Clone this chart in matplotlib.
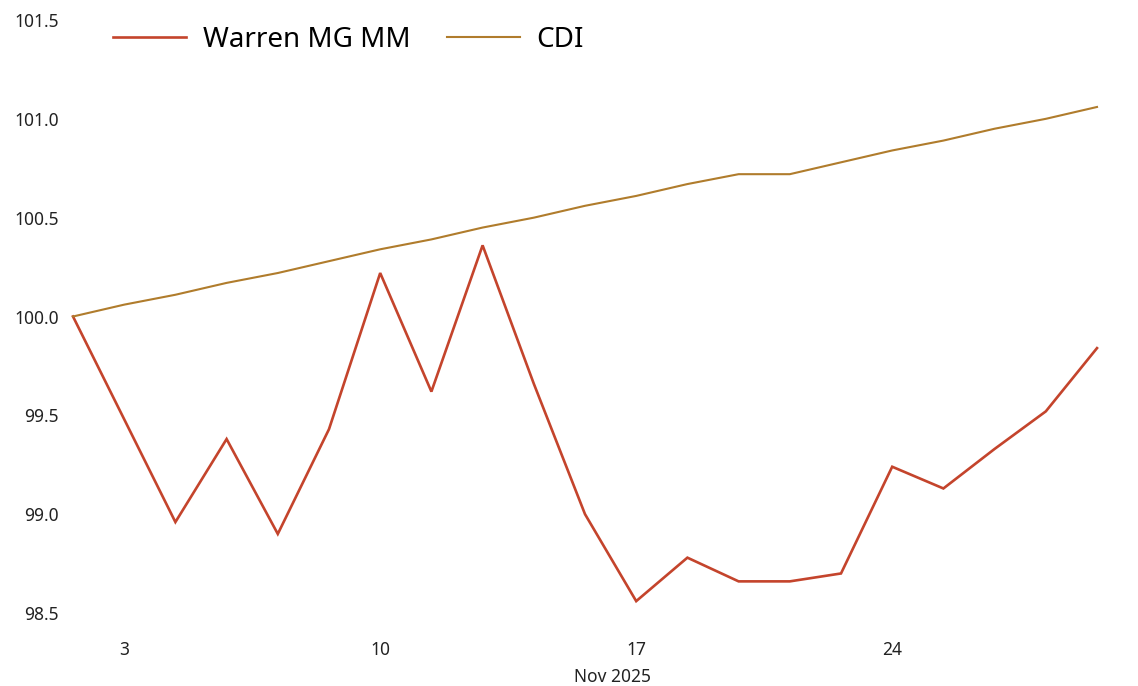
import matplotlib.pyplot as plt
import pandas as pd

# business days shown on the chart (weekends removed, Nov 20 is a holiday)
dates = ["2025-10-31", "2025-11-03", "2025-11-04", "2025-11-05", "2025-11-06",
         "2025-11-07", "2025-11-10", "2025-11-11", "2025-11-12", "2025-11-13",
         "2025-11-14", "2025-11-17", "2025-11-18", "2025-11-19", "2025-11-20",
         "2025-11-21", "2025-11-24", "2025-11-25", "2025-11-26", "2025-11-27",
         "2025-11-28"]

warren = [100.00, 99.48, 98.96, 99.38, 98.90, 99.43, 100.22, 99.62, 100.36, 99.66,
          99.00, 98.56, 98.78, 98.66, 98.66, 98.70, 99.24, 99.13, 99.33, 99.52,
          99.84]

cdi = [100.00, 100.06, 100.11, 100.17, 100.22, 100.28, 100.34, 100.39, 100.45, 100.50,
       100.56, 100.61, 100.67, 100.72, 100.72, 100.78, 100.84, 100.89, 100.95, 101.00,
       101.06]

tick_days = ["2025-11-03", "2025-11-10", "2025-11-17", "2025-11-24"]
y_ticks = [98.5, 99.0, 99.5, 100.0, 100.5, 101.0, 101.5]

plt.rcParams['font.family'] = ['Noto Sans', 'DejaVu Sans']

W, H = 1138, 686
fig = plt.figure(figsize=(W / 100, H / 100), dpi=100)
ax = fig.add_axes([73 / W, 1 - 613 / H, (1097 - 73) / W, (613 - 20) / H])

d = pd.to_datetime(dates)
x = list(range(len(d)))

ax.plot(x, warren, color='#c4442c', lw=1.9, label='Warren MG MM', clip_on=False,
        solid_joinstyle='miter')
ax.plot(x, cdi, color='#b07c2c', lw=1.5, label='CDI', clip_on=False)

ax.set_xlim(0, len(x) - 1)
ax.set_ylim(98.5, 101.5)

tick_pos = [list(d).index(pd.Timestamp(t)) for t in tick_days]
ax.set_xticks(tick_pos)
ax.set_xticklabels([str(pd.Timestamp(t).day) for t in tick_days])
ax.set_yticks(y_ticks)
ax.set_yticklabels([f"{v:.1f}" for v in y_ticks])

ax.tick_params(axis='both', length=0, labelsize=12.5, colors='#222222')
ax.tick_params(axis='x', pad=20)
ax.tick_params(axis='y', pad=10)
for s in ax.spines.values():
    s.set_visible(False)

fig.text(612 / W, 1 - 677 / H, "Nov 2025", ha='center', va='center',
         fontsize=12.5, color='#222222')

fig.legend(loc='center left', bbox_to_anchor=(113 / W, 1 - 40 / H), ncol=2,
           frameon=False, handlelength=2.63, handletextpad=0.61,
           columnspacing=1.3, borderpad=0, borderaxespad=0,
           prop={'size': 20})

fig.savefig('out.png', dpi=100)
